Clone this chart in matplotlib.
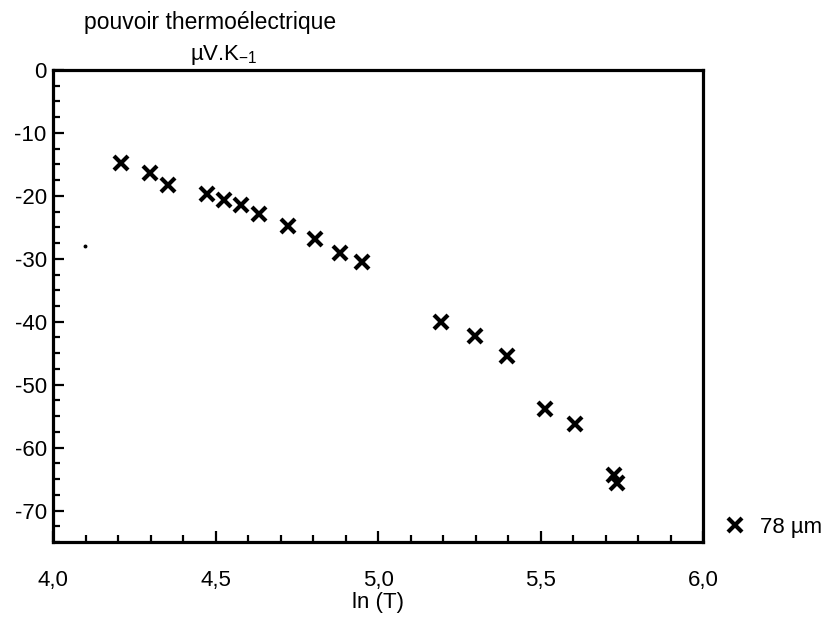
import matplotlib
matplotlib.use('Agg')
import matplotlib.pyplot as plt
from matplotlib.ticker import MultipleLocator, FuncFormatter

plt.rcParams['font.family'] = ['Liberation Sans', 'DejaVu Sans']
plt.rcParams['axes.unicode_minus'] = False

# donnees
ln_T = [4.209, 4.298, 4.355, 4.473, 4.527, 4.578, 4.633, 4.722, 4.806, 4.883, 4.952,
        5.194, 5.298, 5.396, 5.514, 5.606, 5.726, 5.734]
pte = [-14.7, -16.3, -18.2, -19.7, -20.7, -21.5, -22.9, -24.8, -26.8, -29.1, -30.5,
       -40.0, -42.3, -45.4, -53.8, -56.3, -64.3, -65.6]
# petit point isole
dot_x = [4.098]
dot_y = [-28.0]

fig = plt.figure(figsize=(8.32, 6.18), dpi=100)
ax = fig.add_axes([0.0637, 0.123, 0.7813, 0.7637])

ax.plot(ln_T, pte, linestyle='none', marker='x', color='black',
        markersize=10, markeredgewidth=3, label='78 µm')
ax.plot(dot_x, dot_y, linestyle='none', marker='o', color='black', markersize=1.8)

ax.set_xlim(4.0, 6.0)
ax.set_ylim(-75, 0)

ax.xaxis.set_major_locator(MultipleLocator(0.5))
ax.xaxis.set_minor_locator(MultipleLocator(0.1))
ax.yaxis.set_major_locator(MultipleLocator(10))
ax.yaxis.set_minor_locator(MultipleLocator(2.5))

ax.xaxis.set_major_formatter(FuncFormatter(lambda v, p: ('%.1f' % v).replace('.', ',')))
ax.yaxis.set_major_formatter(FuncFormatter(lambda v, p: '%d' % round(v)))

for s in ax.spines.values():
    s.set_linewidth(2.3)

ax.tick_params(axis='both', which='both', direction='in', width=1.6, labelsize=16)
ax.tick_params(axis='both', which='major', length=8)
ax.tick_params(axis='both', which='minor', length=5)
ax.tick_params(axis='x', which='major', pad=20)
ax.tick_params(axis='y', which='major', pad=4.5)

ax.set_xlabel('ln (T)', fontsize=16, labelpad=1)

fig.text(84 / 832, 1 - 23 / 618, 'pouvoir thermoélectrique', fontsize=16.5,
         ha='left', va='center')
fig.text(190 / 832, 1 - 55 / 618, r'µV.K$_{\mathregular{-1}}$', fontsize=16,
         ha='left', va='center')

ax.legend(loc='center left', bbox_to_anchor=(724 / 832, 1 - 527 / 618),
          bbox_transform=fig.transFigure, frameon=False, fontsize=16,
          handlelength=1.0, handletextpad=0.6, borderpad=0, borderaxespad=0)

fig.savefig('out.png', dpi=100)
